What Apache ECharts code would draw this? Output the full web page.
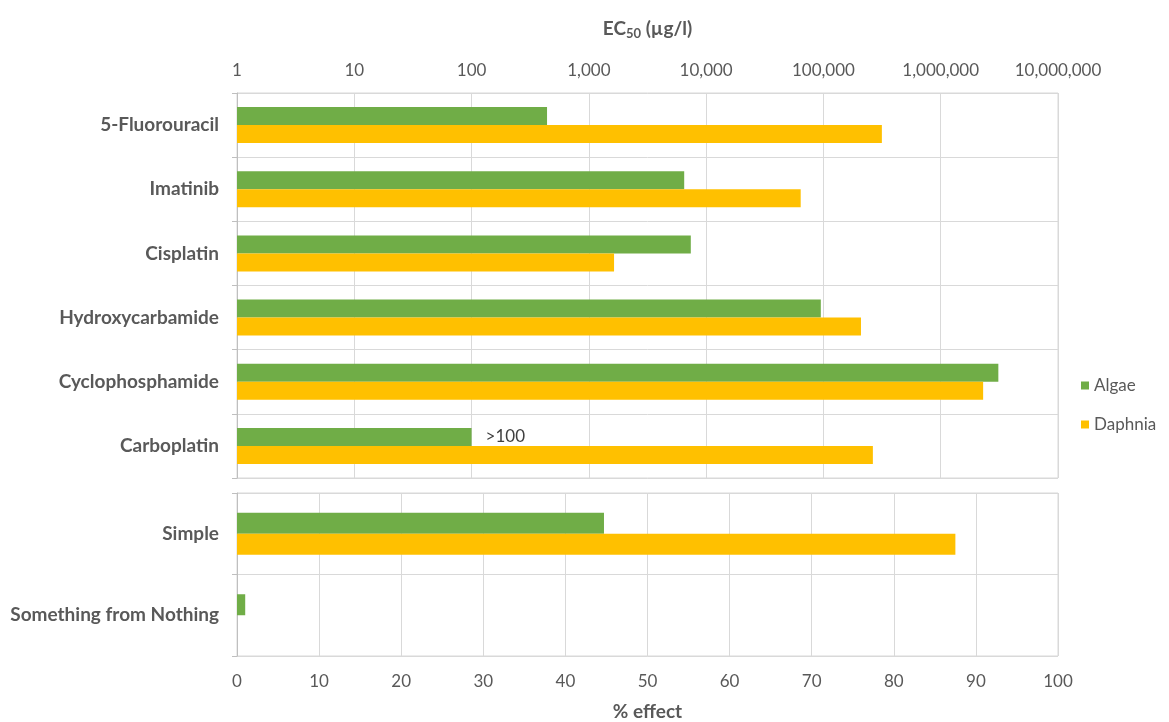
<!DOCTYPE html>
<html>
<head>
<meta charset="utf-8">
<script src="https://cdn.jsdelivr.net/npm/echarts@6/dist/echarts.min.js"></script>
<style>html,body{margin:0;padding:0;background:#fff}#c{width:1169px;height:722px}</style>
</head>
<body>
<div id="c"></div>
<script>
// Top panel: EC50 (µg/l), log scale
const drugs = ['5-Fluorouracil', 'Imatinib', 'Cisplatin', 'Hydroxycarbamide', 'Cyclophosphamide', 'Carboplatin'];
const algaeEC50 = [440, 6500, 7400, 95000, 3100000, 100];
const daphniaEC50 = [315000, 64000, 1640, 209000, 2300000, 264000];
const algaeNotes = ['', '', '', '', '', '>100'];
// Bottom panel: % effect
const mixtures = ['Simple', 'Something from Nothing'];
const algaeEffect = [44.7, 1.0];
const daphniaEffect = [87.5, 0];
const legendNames = ['Algae', 'Daphnia'];

const txt = '#595959';
const gridCol = '#d9d9d9';
const font = 'Lato';
const green = '#70ad47', yellow = '#ffc000';

const chart = echarts.init(document.getElementById('c'), null, {renderer: 'canvas'});
chart.setOption({
  animation: false,
  textStyle: {fontFamily: font},
  legend: {
    data: legendNames, orient: 'vertical', left: 1076, top: 372,
    icon: 'rect', itemWidth: 8, itemHeight: 8, itemGap: 22,
    textStyle: {fontSize: 17, color: txt, fontFamily: font}
  },
  grid: [
    {left: 237, right: 111, top: 93, height: 385, show: true, borderColor: gridCol, borderWidth: 1},
    {left: 237, right: 111, top: 493, height: 164, show: true, borderColor: gridCol, borderWidth: 1}
  ],
  xAxis: [
    {
      gridIndex: 0, type: 'log', logBase: 10, min: 1, max: 10000000, splitNumber: 7, position: 'top',
      name: '{a|EC}{s|50}{a| (µg/l)}', nameLocation: 'middle', nameGap: 53,
      nameTextStyle: {rich: {
        a: {fontSize: 19, fontWeight: 'bold', color: txt, fontFamily: font, lineHeight: 22},
        s: {fontSize: 13, fontWeight: 'bold', color: txt, fontFamily: font, verticalAlign: 'bottom', lineHeight: 15}
      }},
      axisLine: {show: false}, axisTick: {show: false},
      axisLabel: {color: txt, fontSize: 17, margin: 14, formatter: v => Number(v).toLocaleString('en-US')},
      splitLine: {show: true, lineStyle: {color: gridCol, width: 1}}
    },
    {
      gridIndex: 1, type: 'value', min: 0, max: 100, interval: 10, position: 'bottom',
      name: '% effect', nameLocation: 'middle', nameGap: 46,
      nameTextStyle: {fontSize: 19, fontWeight: 'bold', color: txt},
      axisLine: {show: false}, axisTick: {show: false},
      axisLabel: {color: txt, fontSize: 17, margin: 17},
      splitLine: {show: true, lineStyle: {color: gridCol, width: 1}}
    }
  ],
  yAxis: [
    {
      gridIndex: 0, type: 'category', data: drugs, inverse: true,
      axisLine: {show: true, lineStyle: {color: '#bfbfbf'}},
      axisTick: {show: true, length: 5, lineStyle: {color: '#bfbfbf'}},
      axisLabel: {color: txt, fontSize: 19, fontWeight: 'bold', margin: 18},
      splitLine: {show: true, lineStyle: {color: gridCol, width: 1}}
    },
    {
      gridIndex: 1, type: 'category', data: mixtures, inverse: true,
      axisLine: {show: true, lineStyle: {color: '#bfbfbf'}},
      axisTick: {show: true, length: 5, lineStyle: {color: '#bfbfbf'}},
      axisLabel: {color: txt, fontSize: 19, fontWeight: 'bold', margin: 18},
      splitLine: {show: true, lineStyle: {color: gridCol, width: 1}}
    }
  ],
  series: [
    {name: legendNames[0], type: 'bar', xAxisIndex: 0, yAxisIndex: 0, data: algaeEC50,
     barWidth: 18, barGap: '0%', itemStyle: {color: green},
     label: {show: true, position: 'right', distance: 14, color: '#404040', fontSize: 17,
             formatter: p => algaeNotes[p.dataIndex]}},
    {name: legendNames[1], type: 'bar', xAxisIndex: 0, yAxisIndex: 0, data: daphniaEC50,
     barWidth: 18, barGap: '0%', itemStyle: {color: yellow}},
    {name: legendNames[0], type: 'bar', xAxisIndex: 1, yAxisIndex: 1, data: algaeEffect,
     barWidth: 21, barGap: '0%', itemStyle: {color: green}},
    {name: legendNames[1], type: 'bar', xAxisIndex: 1, yAxisIndex: 1, data: daphniaEffect,
     barWidth: 21, barGap: '0%', itemStyle: {color: yellow}}
  ]
});
</script>
</body>
</html>
